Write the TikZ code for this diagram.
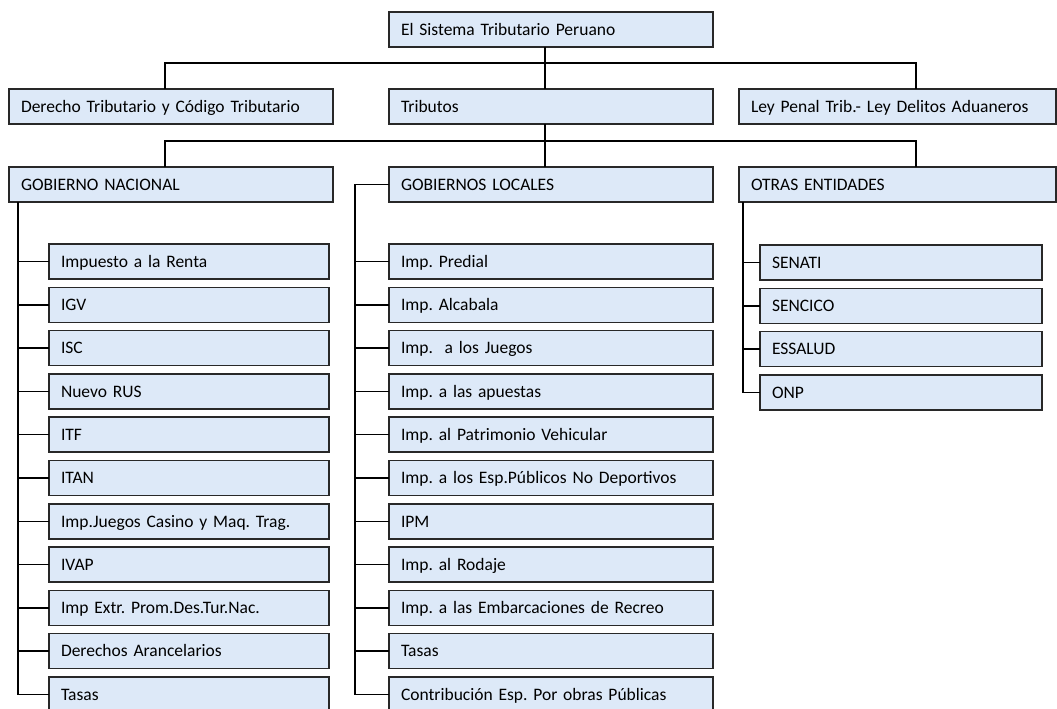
\documentclass[tikz,border=0pt]{standalone}
\usepackage{fontspec}
\setmainfont{Carlito}
\usetikzlibrary{positioning}
\frenchspacing

\definecolor{boxfill}{RGB}{221,233,248}
\definecolor{boxline}{RGB}{40,40,40}

\begin{document}
\begin{tikzpicture}[x=1pt,y=-1pt,node distance=8.3pt,line width=1.5pt,
 font=\fontsize{17.5}{20}\selectfont,
 box/.style={draw=boxline,fill=boxfill,anchor=north west,minimum height=35pt,
  outer sep=0pt,inner xsep=12pt,text height=11.5pt,text depth=0pt,align=left,
  text width=#1},
 box/.default=300pt]

  \useasboundingbox (0,0) rectangle (1057,709);
  \clip (0,0) rectangle (1057,709);

  \node[box] (sis) at (389,12) {El Sistema Tributario Peruano};
  \node[box] (der) at (9,89) {Derecho Tributario y Código Tributario};
  \node[box] (trib) at (389,89) {Tributos};
  \node[box=293pt] (ley) at (739,89) {Ley Penal Trib.- Ley Delitos Aduaneros};

  \node[box] (gn) at (9,167) {GOBIERNO NACIONAL};
  \node[box] (gl) at (389,167) {GOBIERNOS LOCALES};
  \node[box=293pt] (oe) at (739,167) {OTRAS ENTIDADES};

  \node[box=256pt] (gn1) at (49,244) {Impuesto a la Renta};
  \foreach \t [count=\i from 2, remember=\i as \j (initially 1)] in
   {IGV, ISC, Nuevo RUS, ITF, ITAN, Imp.Juegos Casino y Maq. Trag., IVAP,
    Imp Extr. Prom.Des.Tur.Nac., Derechos Arancelarios, Tasas}
   \node[box=256pt, below=of gn\j] (gn\i) {\t};

  \node[box] (gl1) at (389,244) {Imp. Predial};
  \foreach \t [count=\i from 2, remember=\i as \j (initially 1)] in
   {Imp. Alcabala, Imp.\ \ a los Juegos, Imp. a las apuestas,
    Imp. al Patrimonio Vehicular, Imp. a los Esp.Públicos No Deportivos, IPM,
    Imp. al Rodaje, Imp. a las Embarcaciones de Recreo, Tasas,
    Contribución Esp. Por obras Públicas}
   \node[box, below=of gl\j] (gl\i) {\t};

  \node[box=258pt] (oe1) at (760,245) {SENATI};
  \foreach \t [count=\i from 2, remember=\i as \j (initially 1)] in
   {SENCICO, ESSALUD, ONP}
   \node[box=258pt, below=of oe\j] (oe\i) {\t};

  \coordinate (bus1) at (0,63);
  \coordinate (bus2) at (0,141);
  \coordinate (c1) at (165,0);
  \coordinate (c2) at (545,0);
  \coordinate (c3) at (916,0);
  \coordinate (v1) at (18,0);
  \coordinate (v2) at (355,0);
  \coordinate (v3) at (743,0);

  \draw (c2 |- sis.south) -- (c2 |- trib.north);
  \draw (c1 |- der.north) |- (bus1 -| c3) -- (c3 |- ley.north);
  \draw (c2 |- trib.south) -- (c2 |- gl.north);
  \draw (c1 |- gn.north) |- (bus2 -| c3) -- (c3 |- oe.north);

  \draw (v1 |- gn.south) |- (gn11.west);
  \foreach \i in {1,...,10} \draw (v1 |- gn\i.west) -- (gn\i.west);
  \draw (gl.west) -| (v2 |- gl11.west) -- (gl11.west);
  \foreach \i in {1,...,10} \draw (v2 |- gl\i.west) -- (gl\i.west);
  \draw (v3 |- oe.south) |- (oe4.west);
  \foreach \i in {1,...,3} \draw (v3 |- oe\i.west) -- (oe\i.west);
\end{tikzpicture}
\end{document}
